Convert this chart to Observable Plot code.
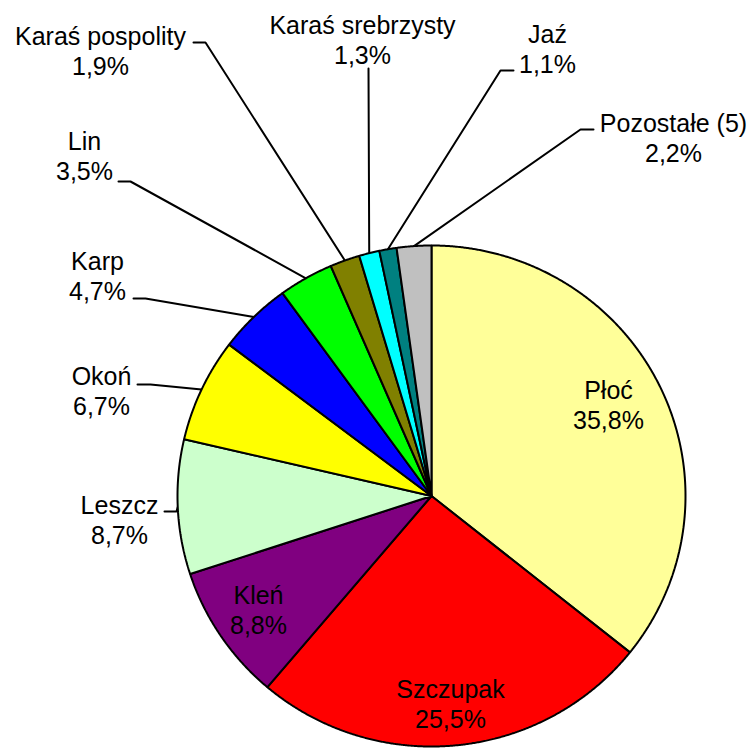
<!DOCTYPE html>
<html>
<head>
<meta charset="utf-8">
<script src="https://cdn.jsdelivr.net/npm/d3@7"></script>
<script src="https://cdn.jsdelivr.net/npm/@observablehq/plot@0.6"></script>
<style>
  html, body { margin: 0; padding: 0; background: #fff; }
  #chart svg { display: block; }
</style>
</head>
<body>
<div id="chart"></div>
<script>
// ---- data ----
const names = ["Płoć", "Szczupak", "Kleń", "Leszcz", "Okoń", "Karp", "Lin",
  "Karaś pospolity", "Karaś srebrzysty", "Jaź", "Pozostałe (5)"];
const shares = [35.8, 25.5, 8.8, 8.7, 6.7, 4.7, 3.5, 1.9, 1.3, 1.1, 2.2];
const shareLabels = ["35,8%", "25,5%", "8,8%", "8,7%", "6,7%", "4,7%", "3,5%",
  "1,9%", "1,3%", "1,1%", "2,2%"];

// ---- styles ----
const colors = ["#FFFF99", "#FF0000", "#800080", "#CCFFCC", "#FFFF00", "#0000FF",
  "#00FF00", "#808000", "#00FFFF", "#008080", "#C0C0C0"];

// ---- layout (pixels) ----
const W = 755, H = 749;
const cx = 431, cy = 495.5, rx = 254, ry = 250.5;
const toUnit = ([px, py]) => [(px - cx) / rx, (cy - py) / ry];
// label anchor: centre x, y of the two-line block
const labelPx = [[608, 404], [450, 703], [258, 609], [119, 519], [101, 390], [97, 275],
  [84, 155], [100, 50], [362, 39], [547, 48], [673, 137]];
// leader lines: [elbow, end] or null
const leaderPx = [null, null, null,
  [[176, 511], [164, 511]],
  [[150, 384], [137, 384]],
  [[145, 298], [133, 298]],
  [[130, 181], [118, 181]],
  [[205, 42], [193, 42]],
  [[368, 68], [368, 68]],
  [[500, 70], [513, 70]],
  [[580, 129], [593, 129]]];

// ---- geometry from data ----
const arcs = d3.pie().sort(null).value(d => d)(shares);
const slicePts = [];
arcs.forEach((a, i) => {
  slicePts.push({name: names[i], x: 0, y: 0});
  const n = Math.max(2, Math.ceil((a.endAngle - a.startAngle) / (Math.PI / 720)));
  for (let k = 0; k <= n; k++) {
    const t = a.startAngle + (a.endAngle - a.startAngle) * k / n;
    slicePts.push({name: names[i], x: Math.sin(t), y: Math.cos(t)});
  }
});

const leaderPts = [];
arcs.forEach((a, i) => {
  if (!leaderPx[i]) return;
  const mid = (a.startAngle + a.endAngle) / 2;
  leaderPts.push({name: names[i], x: Math.sin(mid), y: Math.cos(mid)});
  for (const p of leaderPx[i]) {
    const [ux, uy] = toUnit(p);
    leaderPts.push({name: names[i], x: ux, y: uy});
  }
});

const labels = names.map((n, i) => {
  const [ux, uy] = toUnit(labelPx[i]);
  return {text: n + "\n" + shareLabels[i], x: ux, y: uy};
});

const chart = Plot.plot({
  width: W,
  height: H,
  margin: 0,
  x: {domain: [-1, 1], range: [cx - rx, cx + rx], axis: null},
  y: {domain: [-1, 1], range: [cy + ry, cy - ry], axis: null},
  color: {domain: names, range: colors},
  style: {fontFamily: "'Liberation Sans', Arial, sans-serif", background: "#fff", overflow: "hidden"},
  marks: [
    Plot.line(leaderPts, {x: "x", y: "y", z: "name", stroke: "#000", strokeWidth: 2, curve: "linear"}),
    Plot.line(slicePts, {x: "x", y: "y", z: "name", fill: "name", stroke: "#000",
      strokeWidth: 2, strokeLinejoin: "miter", curve: "linear-closed"}),
    Plot.text(labels, {x: "x", y: "y", text: "text", fontSize: 25, lineHeight: 1.2,
      fill: "#000", textAnchor: "middle"})
  ]
});
document.getElementById("chart").appendChild(chart);
</script>
</body>
</html>
